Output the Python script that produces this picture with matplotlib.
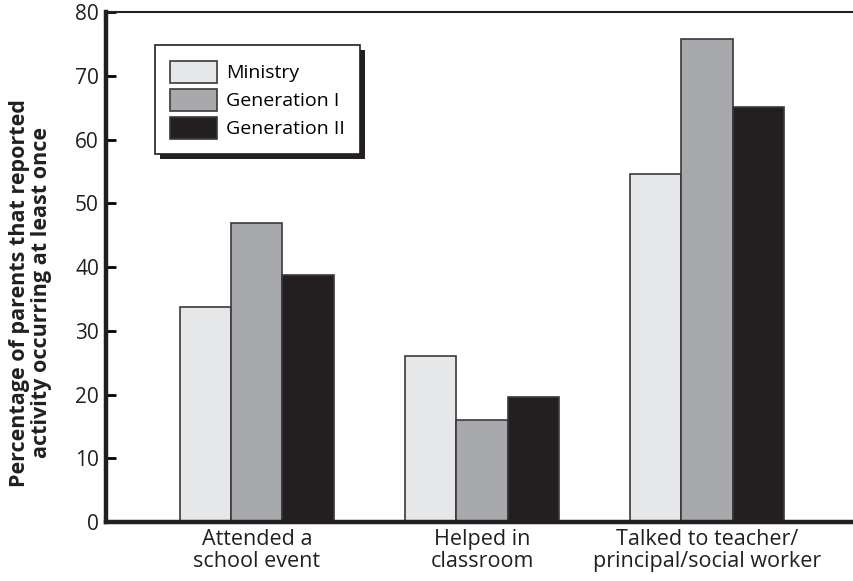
import numpy as np
import matplotlib
matplotlib.use("Agg")
import matplotlib.pyplot as plt
from matplotlib.patches import Rectangle

plt.rcParams['font.family'] = ['Open Sans', 'DejaVu Sans']

# data
categories = ["Attended a\nschool event", "Helped in\nclassroom", "Talked to teacher/\nprincipal/social worker"]
series_names = ["Ministry", "Generation I", "Generation II"]
ministry = [33.7, 26.0, 54.6]
gen1 = [46.9, 16.0, 75.8]
gen2 = [38.7, 19.6, 65.1]
colors = ["#e6e7e8", "#a7a9ac", "#231f20"]

fig = plt.figure(figsize=(8.54, 5.81), dpi=100)
ax = fig.add_axes([0.124, 0.1015, 0.876, 0.8775])

x = np.arange(len(categories))
w = 0.227
for i, vals in enumerate([ministry, gen1, gen2]):
    ax.bar(x + (i - 1) * w, vals, w, color=colors[i], edgecolor="#3a3a3a",
           linewidth=1.2, label=series_names[i], zorder=2)

ax.set_xlim(-0.671, 2.653)
ax.set_ylim(0, 80)
ax.set_yticks(np.arange(0, 81, 10))
ax.set_xticks(x)
ax.set_xticklabels(categories, fontsize=15.5, linespacing=1.05, color="#231f20")
ax.tick_params(axis='x', length=0, pad=5)
ax.tick_params(axis='y', direction='in', length=7, width=2, labelsize=15,
               pad=5, labelcolor="#231f20")

for s in ['left', 'bottom']:
    ax.spines[s].set_linewidth(3.2)
    ax.spines[s].set_color("#231f20")
ax.spines['top'].set_linewidth(1.5)
ax.spines['top'].set_color("#231f20")
ax.spines['right'].set_visible(False)

ax.set_ylabel("Percentage of parents that reported\nactivity occurring at least once",
              fontsize=15.5, fontweight='bold', linespacing=1.05,
              color="#231f20")
ax.yaxis.set_label_coords(-0.072, 0.45)

leg = ax.legend(loc='upper left', bbox_to_anchor=(0.0655, 0.935), fancybox=False,
                edgecolor="#231f20", framealpha=1, fontsize=14,
                handlelength=2.4, handleheight=1.35, handletextpad=0.45,
                labelspacing=0.32, borderpad=0.8, borderaxespad=0)
leg.get_frame().set_linewidth(1.2)
leg.set_zorder(5)

# drop shadow behind the legend box
fig.canvas.draw()
bb = leg.get_frame().get_window_extent()
shadow = Rectangle((bb.x0 + 5, bb.y0 - 5), bb.width, bb.height, transform=None,
                   facecolor="#231f20", edgecolor='none', zorder=4)
ax.add_artist(shadow)

fig.savefig("out.png", dpi=100)
